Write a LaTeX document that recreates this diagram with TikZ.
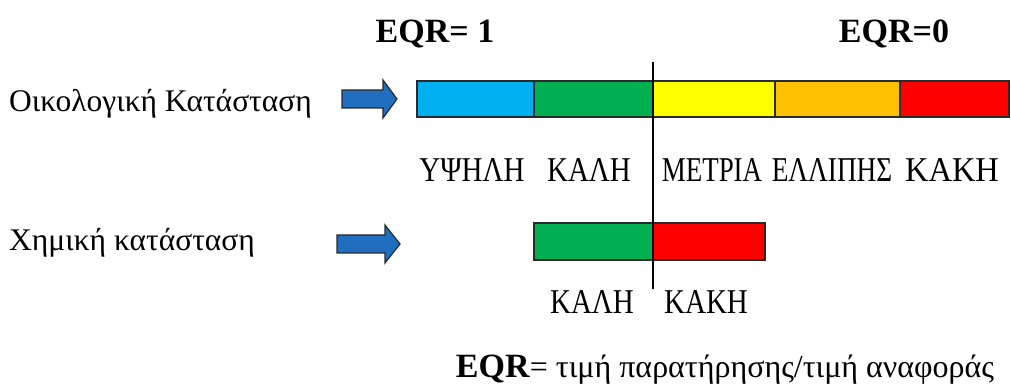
\documentclass[tikz,border=0pt]{standalone}
\usepackage{fontspec}
\setmainfont{Liberation Serif}
\definecolor{cblue}{HTML}{00B0F0}
\definecolor{cgreen}{HTML}{00B050}
\definecolor{cyellow}{HTML}{FFFF00}
\definecolor{corange}{HTML}{FFC000}
\definecolor{cred}{HTML}{FF0000}
\definecolor{arrowblue}{HTML}{1F6EBF}
\definecolor{edge}{HTML}{2A2A2A}
\newcommand{\capsl}[2][1]{\scalebox{#1}[1.2]{#2}}
\begin{document}
\begin{tikzpicture}[x=1pt,y=-1pt,
  seg/.style={draw=edge,line width=1.3pt},
  lbl/.style={anchor=base,font=\fontsize{29}{32}\selectfont,inner sep=0pt},
  side/.style={anchor=base west,font=\fontsize{31.5}{34}\selectfont,inner sep=0pt},
  eqr/.style={anchor=base,font=\fontsize{34}{38}\selectfont\bfseries,inner sep=0pt},
  bigarrow/.style={draw=edge,fill=arrowblue,line width=1.2pt,line join=miter}
]
\useasboundingbox (0,0) rectangle (1011,387);
% top bar
\fill[cblue]   (417,81) rectangle (534,117);
\fill[cgreen]  (534,81) rectangle (653,117);
\fill[cyellow] (653,81) rectangle (775,117);
\fill[corange] (775,81) rectangle (900,117);
\fill[cred]    (900,81) rectangle (1009,117);
\draw[seg] (417,81) rectangle (1009,117);
\foreach \x in {534,775,900} \draw[seg] (\x,81) -- (\x,117);
% bottom bar
\fill[cgreen] (534,223) rectangle (653,260);
\fill[cred]   (653,223) rectangle (765,260);
\draw[seg] (534,223) rectangle (765,260);
% divider
\coordinate (dtop) at (653,62);
\coordinate (dbot) at (653,289);
\draw[line width=2.6pt] (dtop) -- (dbot);
% arrows
\draw[bigarrow] (342,90) -- (383,90) -- (383,80) -- (397,99) -- (383,118) -- (383,108) -- (342,108) -- cycle;
\draw[bigarrow] (337,235) -- (385,235) -- (385,225) -- (400,244) -- (385,263) -- (385,253) -- (337,253) -- cycle;
% text
\node[eqr] (e1) at (435,43) {EQR= 1};
\node[eqr] (e0) at (894,43) {EQR=0};
\node[side] (l1) at (9,112) {Οικολογική Κατάσταση};
\node[side] (l2) at (9,251) {Χημική κατάσταση};
\node[lbl] (t1) at (472,182) {\capsl{ΥΨΗΛΗ}};
\node[lbl] (t2) at (589,182) {\capsl{ΚΑΛΗ}};
\node[lbl] (t3) at (712,182) {\capsl[0.93]{ΜΕΤΡΙΑ}};
\node[lbl] (t4) at (832,182) {\capsl[0.94]{ΕΛΛΙΠΗΣ}};
\node[lbl] (t5) at (952,182) {\capsl[1.12]{ΚΑΚΗ}};
\node[lbl] (b1) at (592,313) {\capsl{ΚΑΛΗ}};
\node[lbl] (b2) at (706,313) {\capsl{ΚΑΚΗ}};
\node[anchor=base,inner sep=0pt,font=\fontsize{32}{36}\selectfont] (def) at (725,377) {\textbf{\fontsize{34}{38}\selectfont EQR}= τιμή παρατήρησης/τιμή αναφοράς};
\end{tikzpicture}
\end{document}
